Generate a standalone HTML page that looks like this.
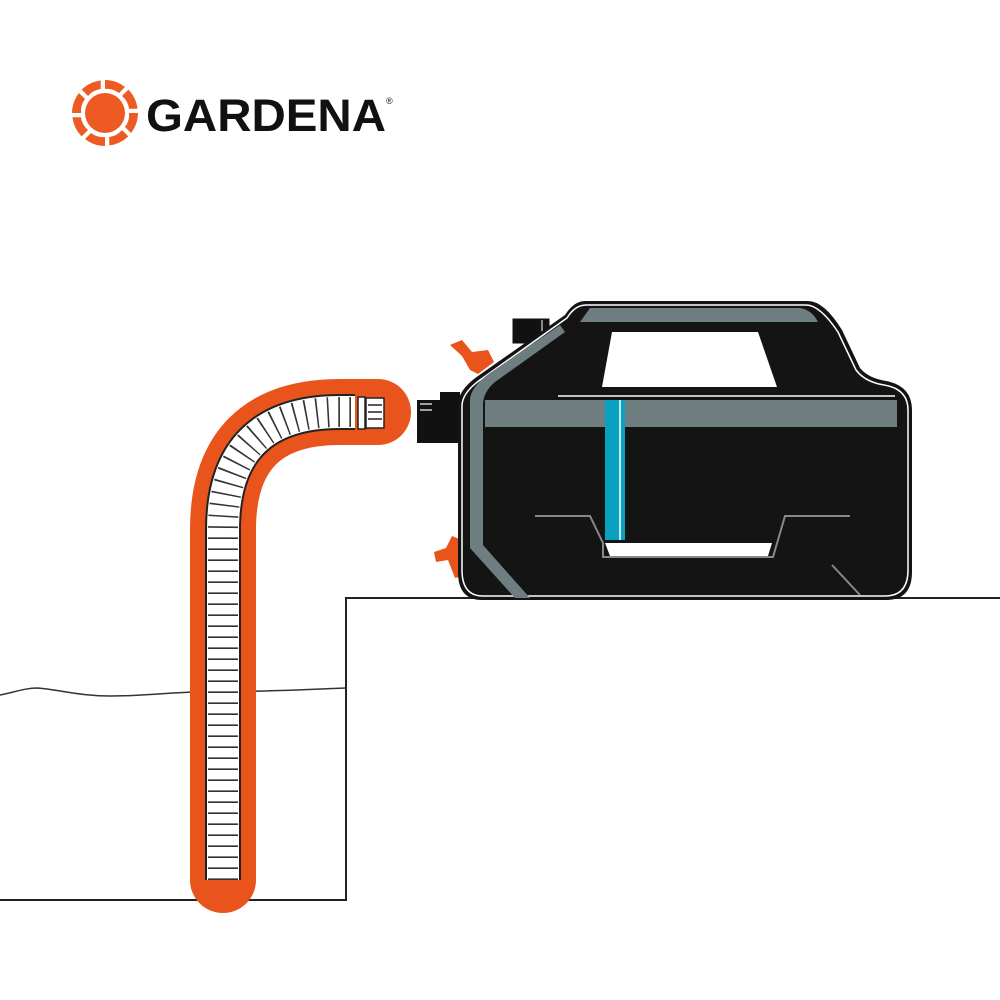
<!DOCTYPE html>
<html><head><style>
html,body{margin:0;padding:0;background:#fff;width:1000px;height:1000px;overflow:hidden}
svg{display:block}
</style></head><body>
<svg width="1000" height="1000" viewBox="0 0 1000 1000" xmlns="http://www.w3.org/2000/svg">
<!-- logo -->
<g fill="#ee5a24">
  <circle cx="105" cy="113" r="20"/>
  <g id="pet">
    <path d="M105,80 a33,33 0 0 1 20,7 l-6,6 a20,20 0 0 0 -14,-4 z"/>
  </g>
  <use href="#pet" transform="rotate(45 105 113)"/>
  <use href="#pet" transform="rotate(90 105 113)"/>
  <use href="#pet" transform="rotate(135 105 113)"/>
  <use href="#pet" transform="rotate(180 105 113)"/>
  <use href="#pet" transform="rotate(225 105 113)"/>
  <use href="#pet" transform="rotate(270 105 113)"/>
  <use href="#pet" transform="rotate(315 105 113)"/>
</g>
<text x="146" y="131" font-family="Liberation Sans, sans-serif" font-weight="bold" font-size="45" fill="#111" textLength="240" lengthAdjust="spacingAndGlyphs">GARDENA</text>
<text x="386" y="104" font-family="Liberation Sans, sans-serif" font-size="9" fill="#111">®</text>

<!-- ground -->
<path d="M0,900 H346 V598 H1000" fill="none" stroke="#222" stroke-width="2"/>
<path d="M0,695 C15,692 25,688 38,688 C60,690 80,696 110,696 C150,696 170,692 200,692 C250,692 300,690 346,688" fill="none" stroke="#333" stroke-width="1.5"/>

<!-- hose -->
<path d="M223,880 V530 Q223,412 340,412 H378" fill="none" stroke="#e8541b" stroke-width="66" stroke-linecap="round"/>
<path d="M223,880 V530 Q223,412 340,412 H355" fill="none" stroke="#222" stroke-width="36"/>
<path d="M223,880 V530 Q223,412 340,412 H355" fill="none" stroke="#fff" stroke-width="32"/>
<path d="M223,880 V530 Q223,412 340,412 H355" fill="none" stroke="#333" stroke-width="30" stroke-dasharray="1.6 9.4"/>
<rect x="358" y="397" width="7" height="32" fill="#fff" stroke="#222" stroke-width="1.5"/>
<rect x="366" y="398" width="18" height="30" fill="#fff" stroke="#222" stroke-width="1.5"/>
<g stroke="#222" stroke-width="1.5"><line x1="368" y1="405" x2="382" y2="405"/><line x1="368" y1="412" x2="382" y2="412"/><line x1="368" y1="419" x2="382" y2="419"/></g>

<!-- pump knobs -->
<path d="M450,345 L462,340 L472,352 L488,350 L494,362 L478,374 L470,370 L462,356 Z" fill="#e8541b"/>
<path d="M434,552 L446,548 L452,536 L462,540 L464,576 L455,578 L448,560 L436,562 Z" fill="#e8541b"/>
<rect x="512" y="318" width="38" height="26" fill="#111" stroke="#fff" stroke-width="1"/>
<line x1="542" y1="320" x2="542" y2="342" stroke="#fff" stroke-width="1"/>
<rect x="417" y="400" width="44" height="43" fill="#111"/>
<rect x="440" y="392" width="20" height="8" fill="#111"/>
<g stroke="#fff" stroke-width="1.2"><line x1="420" y1="404" x2="432" y2="404"/><line x1="420" y1="410" x2="432" y2="410"/></g>

<!-- pump body -->
<path d="M585,301 H808 Q824,301 842,330 L860,368 Q868,378 886,381 Q912,386 912,410 V572 Q912,600 886,600 H482 Q458,600 458,572 V405 Q458,390 478,376 L565,315 Q574,301 585,301 Z" fill="#141414"/>
<path d="M586,305 H806 Q820,305 838,332 L856,370 Q865,382 884,385 Q908,389 908,410 V570 Q908,596 885,596 H483 Q462,596 462,570 V406 Q462,393 480,380 L567,318 Q575,305 586,305 Z" fill="none" stroke="#fff" stroke-width="1.5"/>
<path d="M590,308 H800 Q812,310 818,322 H580 Z" fill="#6e7d80"/>
<path d="M485,400 H897 V427 H485 Z" fill="#6e7d80"/>
<line x1="558" y1="396" x2="895" y2="396" stroke="#fff" stroke-width="1.5"/>
<path d="M612,332 H758 L777,387 H602 Z" fill="#fff"/>
<path d="M470,402 Q469,388 490,373 L560,325 L565,332 L495,382 Q483,392 483,405 V545 L530,598 H515 L470,548 Z" fill="#6e7d80"/>
<rect x="605" y="400" width="20" height="140" fill="#0aa0c0"/>
<line x1="620" y1="400" x2="620" y2="540" stroke="#fff" stroke-width="1.5"/>
<path d="M535,516 H590 L603,543 V557 H773 L785,516 H850" fill="none" stroke="#888" stroke-width="2"/>
<path d="M605,543 H772 L768,556 H610 Z" fill="#fff"/>
<line x1="832" y1="565" x2="860" y2="595" stroke="#888" stroke-width="2"/>
</svg>
</body></html>
